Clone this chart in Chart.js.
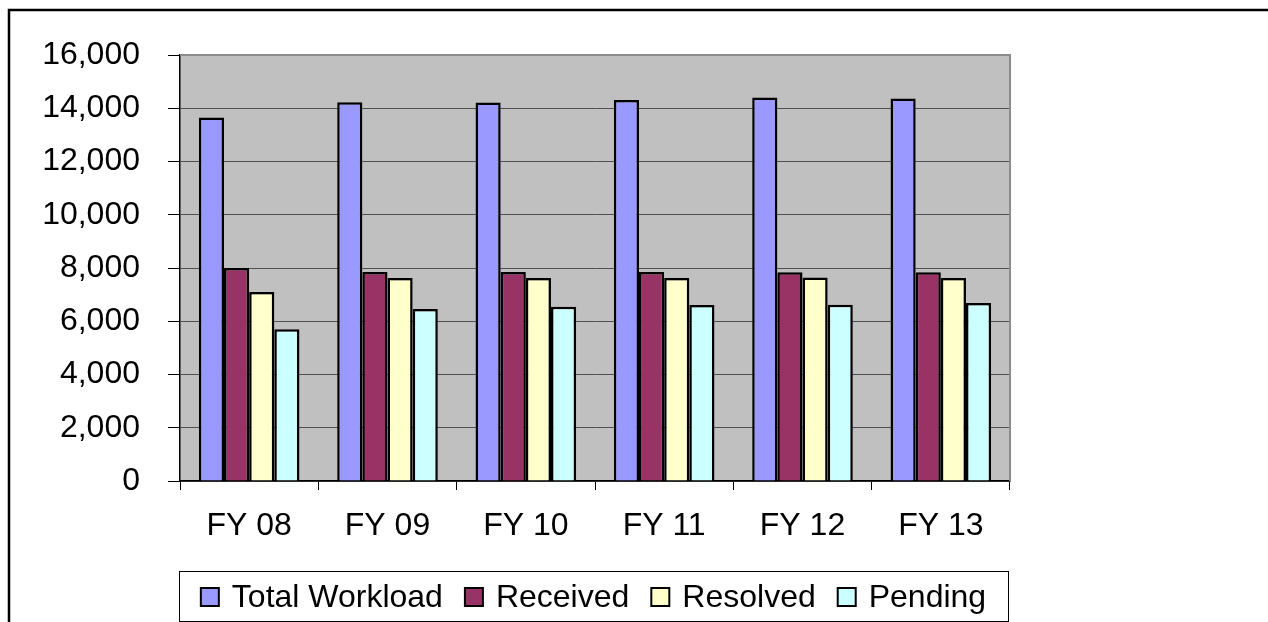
<!DOCTYPE html>
<html>
<head>
<meta charset="utf-8">
<script src="https://cdn.jsdelivr.net/npm/chart.js@4/dist/chart.umd.min.js"></script>
<style>
  html, body { margin: 0; padding: 0; background: #fff; }
  canvas { display: block; }
</style>
</head>
<body>
<canvas id="myChart" width="1268" height="622"></canvas>
<script>
// data
const categories = ["FY 08", "FY 09", "FY 10", "FY 11", "FY 12", "FY 13"];
const totalWorkload = [13650, 14230, 14220, 14310, 14400, 14370];
const received = [8000, 7850, 7850, 7850, 7840, 7840];
const resolved = [7100, 7620, 7620, 7620, 7640, 7620];
const pending = [5700, 6460, 6540, 6610, 6620, 6690];
const seriesNames = ["Total Workload", "Received", "Resolved", "Pending"];
const seriesColors = ["#9999FF", "#993366", "#FFFFCC", "#CCFFFF"];
const yTicks = { min: 0, max: 16000, step: 2000 };

const FONT = "Liberation Sans, Arial, sans-serif";
const FONT_SIZE = 32;

// gray plot area, frame around the picture, legend in a box
const frame = {
    id: "frame",
    beforeDraw(chart) {
        const ctx = chart.ctx;
        const a = chart.chartArea;
        ctx.save();
        ctx.fillStyle = "#C0C0C0";
        ctx.fillRect(a.left, a.top, a.right - a.left, a.bottom - a.top);
        ctx.restore();
    },
    afterDraw(chart) {
        const ctx = chart.ctx;
        const a = chart.chartArea;
        ctx.save();
        // plot area border top/right
        ctx.strokeStyle = "#8C8C8C";
        ctx.lineWidth = 2;
        ctx.beginPath();
        ctx.moveTo(a.left, a.top);
        ctx.lineTo(a.right, a.top);
        ctx.lineTo(a.right, a.bottom);
        ctx.stroke();
        // outer frame (top + left)
        ctx.strokeStyle = "#000";
        ctx.lineWidth = 2.5;
        ctx.beginPath();
        ctx.moveTo(1268, 10);
        ctx.lineTo(9, 10);
        ctx.lineTo(9, 622);
        ctx.stroke();

        // legend
        const box = { x: 179, y: 571, w: 829, h: 50 };
        ctx.lineWidth = 1;
        ctx.strokeStyle = "#000";
        ctx.strokeRect(box.x + 0.5, box.y + 0.5, box.w, box.h);
        ctx.font = FONT_SIZE + "px " + FONT;
        ctx.textBaseline = "middle";
        ctx.fillStyle = "#000";
        const sq = 18, gapText = 13, gapItem = 22;
        const widths = chart.data.datasets.map(d => sq + gapText + ctx.measureText(d.label).width);
        const total = widths.reduce((s, w) => s + w, 0) + gapItem * (widths.length - 1);
        let x = box.x + (box.w - total) / 2;
        const cy = box.y + box.h / 2 + 1;
        chart.data.datasets.forEach((d, i) => {
            ctx.fillStyle = d.backgroundColor;
            ctx.fillRect(x, cy - sq / 2, sq, sq);
            ctx.lineWidth = 2;
            ctx.strokeStyle = "#000";
            ctx.strokeRect(x, cy - sq / 2, sq, sq);
            ctx.fillStyle = "#000";
            ctx.fillText(d.label, x + sq + gapText, cy + 1);
            x += widths[i] + gapItem;
        });
        ctx.restore();
    }
};

const values = [totalWorkload, received, resolved, pending];

new Chart(document.getElementById("myChart").getContext("2d"), {
    type: "bar",
    data: {
        labels: categories,
        datasets: values.map((v, i) => ({
            label: seriesNames[i],
            data: v,
            backgroundColor: seriesColors[i],
            borderColor: "#000",
            borderWidth: 2.5,
            categoryPercentage: 4 / 5.5,
            barPercentage: 1
        }))
    },
    options: {
        responsive: false,
        animation: false,
        layout: { padding: { top: 55, right: 258, bottom: 0, left: 0 } },
        plugins: {
            legend: { display: false },
            tooltip: { enabled: false }
        },
        scales: {
            x: {
                afterFit(scale) { scale.height = 141; },
                grid: {
                    offset: true,
                    drawOnChartArea: false,
                    tickLength: 9,
                    color: "#000",
                    lineWidth: 1
                },
                border: { color: "#000", width: 1.5 },
                ticks: {
                    color: "#000",
                    font: { family: FONT, size: FONT_SIZE },
                    padding: 17,
                    maxRotation: 0
                }
            },
            y: {
                min: yTicks.min,
                max: yTicks.max,
                afterFit(scale) { scale.width = 180; },
                grid: {
                    color: "#505050",
                    tickColor: "#000",
                    tickLength: 12,
                    lineWidth: 1
                },
                border: { color: "#000", width: 1.5 },
                ticks: {
                    stepSize: yTicks.step,
                    color: "#000",
                    font: { family: FONT, size: FONT_SIZE },
                    padding: 28
                }
            }
        }
    },
    plugins: [frame]
});
</script>
</body>
</html>
